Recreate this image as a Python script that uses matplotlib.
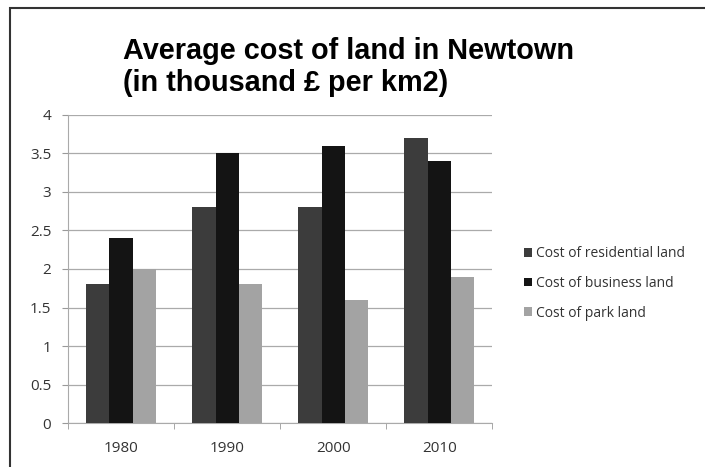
import numpy as np
import matplotlib.pyplot as plt
from matplotlib.patches import Rectangle

years = ["1980", "1990", "2000", "2010"]
residential = [1.8, 2.8, 2.8, 3.7]
business = [2.4, 3.5, 3.6, 3.4]
park = [2.0, 1.8, 1.6, 1.9]
series_names = ["Cost of residential land", "Cost of business land", "Cost of park land"]
colors = ["#3c3c3c", "#141414", "#a3a3a3"]

fig = plt.figure(figsize=(7.05, 4.67), dpi=100)
ax = fig.add_axes([0.0965, 0.094, 0.602, 0.66])

x = np.arange(len(years))
w = 0.22
for i, (vals, name, c) in enumerate(zip([residential, business, park], series_names, colors)):
    ax.bar(x + (i - 1) * w, vals, w, color=c, label=name, zorder=3)

ax.set_xlim(-0.5, 3.5)
ax.set_ylim(0, 4)
ax.set_yticks(np.arange(0, 4.01, 0.5))
ax.set_yticklabels(["0", "0.5", "1", "1.5", "2", "2.5", "3", "3.5", "4"])
ax.set_xticks(x)
ax.set_xticklabels(years)
ax.set_xticks(np.arange(-0.5, 3.6, 1), minor=True)
ax.tick_params(axis="x", which="major", length=0, pad=13)
ax.tick_params(axis="x", which="minor", length=4, color="#999999")
ax.tick_params(axis="y", length=4, color="#999999", pad=8)
for lab in ax.get_xticklabels() + ax.get_yticklabels():
    lab.set_fontfamily("Open Sans")
    lab.set_fontsize(11)
    lab.set_color("#333333")

ax.grid(True, axis="y", color="#aaaaaa", linewidth=0.9, zorder=0)
for s in ["top", "right"]:
    ax.spines[s].set_visible(False)
ax.spines["left"].set_color("#aaaaaa")
ax.spines["bottom"].set_color("#aaaaaa")

fig.text(0.174, 0.856, "Average cost of land in Newtown\n(in thousand \u00a3 per km2)",
         fontsize=20.8, fontweight="bold", family="Liberation Sans",
         ha="left", va="center", linespacing=1.2)

leg = fig.legend(loc="center left", bbox_to_anchor=(0.725, 0.393), frameon=False,
                 handlelength=0.6, handleheight=0.6, handletextpad=0.3,
                 labelspacing=1.05, prop={"family": "Open Sans", "size": 10})
for t in leg.get_texts():
    t.set_color("#333333")

# scanned page frame
fig.patches.append(Rectangle((0.014, -0.01), 1.0, 0.993, transform=fig.transFigure,
                             fill=False, edgecolor="#333333", linewidth=1.5))

fig.savefig("out.png", dpi=100)
